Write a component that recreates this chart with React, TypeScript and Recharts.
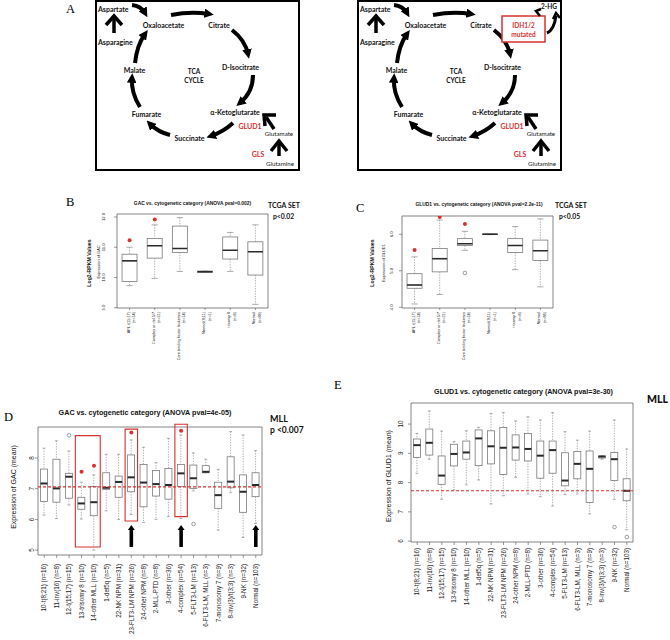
import React from 'react';
import { ComposedChart, Bar, Scatter, XAxis, YAxis, ReferenceLine, ReferenceArea } from 'recharts';

// TCGA set, panels B and C
const tcgaCats = ['APL t(15;17)', 'Complex or del 5/7', 'Core binding factor leukemia', 'Normal(9;11)', 'trisomy 8', 'Normal'];
const tcgaN = ['(n=14)', '(n=21)', '(n=14)', '(n=1)', '(n=8)', '(n=88)'];

const gacMin = [9.73, 9.97, 10.2, 10.17, 10.2, 9.11];
const gacQ1 = [9.87, 10.64, 10.83, 10.17, 10.61, 10.08];
const gacMed = [10.55, 11.05, 10.96, 10.19, 10.9, 10.85];
const gacQ3 = [10.77, 11.29, 11.7, 10.21, 11.34, 11.18];
const gacMax = [11.0, 11.74, 11.98, 10.21, 11.49, 11.74];
const gacStar = [11.23, 11.92, null, null, null, null];
const gacTicks = [9, 9.5, 10, 10.5, 11, 11.5, 12];

const gludMin = [4.09, 4.35, 5.56, 5.99, 5.03, 4.56];
const gludQ1 = [4.52, 4.97, 5.69, 5.99, 5.5, 5.28];
const gludMed = [4.61, 5.33, 5.74, 6.0, 5.69, 5.55];
const gludQ3 = [4.92, 5.61, 5.88, 6.01, 5.88, 5.84];
const gludMax = [5.38, 6.39, 6.08, 6.01, 6.21, 6.42];
const gludStar = [5.57, 6.47, 6.28, null, null, null];
const gludOut = [null, null, 4.94, null, null, null];
const gludTicks = [4, 4.5, 5, 5.5, 6];

// MLL set, panels D and E
const mllCats = [
  '10-t(8;21) (n=16)', '11-inv(16) (n=8)', '12-t(15;17) (n=15)', '13-trisomy 8 (n=10)', '14-other MLL (n=10)',
  '1-del5q (n=5)', '22-NK NPM (n=31)', '23-FLT3-LM NPM (n=26)', '24-other NPM (n=8)', '2-MLL-PTD (n=8)',
  '3-other (n=36)', '4-complex (n=54)', '5-FLT3-LM (n=13)', '6-FLT3-LM, MLL (n=3)', '7-monosomy 7 (n=9)',
  '8-inv(3)/t(3;3) (n=3)', '9-NK (n=32)', 'Normal (n=103)',
];

const gacMllMin = [6.14, 6.03, 6.47, 6.01, 5.0, 6.28, 6.0, 6.16, 5.9, 6.0, 6.09, 6.03, 6.93, 7.52, 5.65, 6.87, 5.41, 5.87];
const gacMllQ1 = [6.58, 6.56, 6.69, 6.33, 6.12, 6.98, 6.72, 6.9, 6.41, 6.76, 6.66, 7.07, 7.01, 7.52, 6.36, 7.03, 6.23, 6.74];
const gacMllMed = [7.17, 7.01, 7.39, 6.52, 6.56, 7.03, 7.22, 7.37, 7.2, 7.15, 7.12, 7.5, 7.34, 7.55, 6.79, 7.23, 6.9, 7.12];
const gacMllQ3 = [7.64, 7.96, 7.5, 6.72, 7.07, 7.52, 7.41, 8.1, 7.79, 7.59, 7.66, 7.79, 7.77, 7.75, 7.21, 8.04, 7.45, 7.52];
const gacMllMax = [8.32, 8.56, 8.23, 7.21, 7.45, 8.12, 8.12, 8.59, 8.35, 7.85, 8.64, 8.75, 8.17, 7.96, 7.63, 8.86, 8.75, 8.24];
const gacMllStar = [null, null, null, 7.55, 7.75, null, null, 8.83, null, null, null, 8.89, null, null, null, null, null, null];
const gacMllOut = [null, null, 8.74, null, null, null, null, null, null, null, null, null, 5.85, null, null, null, null, null];
const gacMllTicks = [5, 6, 7, 8];
const gacMllCutoff = 7.06;
// highlighted groups: first category, last category, low, high
const gacMllBoxes = [
  [3, 4, 5.1, 8.73],
  [7, 7, 5.95, 8.94],
  [11, 11, 6.09, 9.1],
];
const gacMllArrows = [7, 11, 17];

const gludMllMin = [8.32, 8.8, 7.43, 7.75, 7.92, 8.09, 7.27, 7.55, 8.18, 7.61, 7.52, 7.2, 7.6, 7.61, 6.93, 8.8, 7.43, 6.39];
const gludMllQ1 = [8.86, 8.94, 7.94, 8.57, 8.8, 8.58, 8.64, 8.28, 8.77, 8.74, 8.15, 8.32, 7.89, 8.13, 7.32, 8.84, 8.07, 7.38];
const gludMllMed = [9.28, 9.36, 8.24, 8.98, 9.03, 9.51, 9.24, 9.19, 9.2, 9.15, 8.92, 9.11, 8.07, 8.64, 8.47, 8.89, 8.8, 7.72];
const gludMllQ3 = [9.49, 9.83, 8.91, 9.31, 9.42, 9.8, 9.77, 9.88, 9.63, 9.68, 9.42, 9.42, 9.02, 9.06, 9.08, 8.91, 9.03, 8.13];
const gludMllMax = [9.68, 10.45, 9.76, 9.4, 9.77, 9.89, 10.36, 10.39, 10.11, 10.25, 10.14, 10.39, 9.74, 9.45, 9.76, 8.91, 10.14, 9.15];
const gludMllOut = [null, null, null, null, null, null, null, null, null, null, null, null, null, null, null, null, 6.48, 6.14];
const gludMllTicks = [6, 7, 8, 9, 10];
const gludMllCutoff = 7.72;

const rows = (cats: string[], mn: number[], q1: number[], md: number[], q3: number[], mx: number[], star?: (number | null)[], out?: (number | null)[]) =>
  cats.map((name, i) => ({
    name, min: mn[i], q1: q1[i], med: md[i], q3: q3[i], max: mx[i],
    star: star ? star[i] : null, out: out ? out[i] : null,
  }));

const gacData = rows(tcgaCats, gacMin, gacQ1, gacMed, gacQ3, gacMax, gacStar);
const gludData = rows(tcgaCats, gludMin, gludQ1, gludMed, gludQ3, gludMax, gludStar, gludOut);
const gacMllData = rows(mllCats, gacMllMin, gacMllQ1, gacMllMed, gacMllQ3, gacMllMax, gacMllStar, gacMllOut);
const gludMllData = rows(mllCats, gludMllMin, gludMllQ1, gludMllMed, gludMllQ3, gludMllMax, undefined, gludMllOut);

const RFONT = '"Liberation Sans", Arial, sans-serif';
const CFONT = 'Lato, "Open Sans", sans-serif';
const RED = '#d8302f';

const makeBox = (medW: number) => (props: any) => {
  const { x, y, width, height, payload } = props;
  if (x == null || !payload) return <g />;
  const hi = payload.max, lo = payload.min;
  const top = Math.min(y, y + height), bot = Math.max(y, y + height);
  const py = (v: number) => (hi === lo ? top : top + ((bot - top) * (hi - v)) / (hi - lo));
  const cx = x + width / 2;
  const cw = width * 0.21;
  const wh = { stroke: '#8a8a8a', strokeWidth: 0.7 };
  return (
    <g>
      <line x1={cx} x2={cx} y1={py(hi)} y2={py(payload.q3)} {...wh} strokeDasharray="1.3 1.3" />
      <line x1={cx} x2={cx} y1={py(payload.q1)} y2={py(lo)} {...wh} strokeDasharray="1.3 1.3" />
      <line x1={cx - cw} x2={cx + cw} y1={py(hi)} y2={py(hi)} {...wh} />
      <line x1={cx - cw} x2={cx + cw} y1={py(lo)} y2={py(lo)} {...wh} />
      <rect x={x} y={py(payload.q3)} width={width} height={Math.max(py(payload.q1) - py(payload.q3), 0)} fill="#fff" stroke="#7a7a7a" strokeWidth={0.8} />
      <line x1={x} x2={x + width} y1={py(payload.med)} y2={py(payload.med)} stroke="#2a2a2a" strokeWidth={medW} />
    </g>
  );
};

const StarShape = (props: any) =>
  props.payload?.star == null ? <g /> : <circle cx={props.cx} cy={props.cy} r={2} fill={RED} />;
const OutShape = (props: any) =>
  props.payload?.out == null ? <g /> : <circle cx={props.cx} cy={props.cy} r={1.8} fill="none" stroke="#777" strokeWidth={0.7} />;

const UpArrow = (p: any) => {
  const xb = p.x1;
  const yBot = Math.max(p.y1, p.y2), yTop = Math.min(p.y1, p.y2);
  return (
    <g>
      <line x1={xb} x2={xb} y1={yBot} y2={yTop + 4} stroke="#000" strokeWidth={3.6} />
      <polygon points={`${xb - 3.5},${yTop + 5} ${xb},${yTop} ${xb + 3.5},${yTop + 5}`} fill="#000" />
    </g>
  );
};

const rotYTick = (fs: number, fmt: (v: number) => string) => (props: any) => {
  const { x, y, payload } = props;
  return (
    <text transform={`translate(${x},${y}) rotate(-90)`} textAnchor="middle" fontSize={fs} fill="#222" fontFamily={RFONT}>
      {fmt(payload.value)}
    </text>
  );
};

const TcgaTick = (props: any) => {
  const { x, y, payload } = props;
  const i = tcgaCats.indexOf(payload.value);
  return (
    <g fontFamily={RFONT} fontSize={3.8} fill="#222">
      <text transform={`translate(${x},${y}) rotate(-90)`} textAnchor="end">{payload.value}</text>
      <text transform={`translate(${x + 5.5},${y}) rotate(-90)`} textAnchor="end">{tcgaN[i]}</text>
    </g>
  );
};

const MllTick = (props: any) => {
  const { x, y, payload } = props;
  return (
    <text transform={`translate(${x + 2.2},${y}) rotate(-90)`} textAnchor="end" fontSize={6.3} fill="#222" fontFamily={RFONT}>
      {payload.value}
    </text>
  );
};

type BoxProps = {
  data: any[]; w: number; h: number; margin: any; domain: [number, number]; ticks: number[];
  yWidth: number; xHeight: number; xTick: any; yTick: any; medW: number;
  xTickSize: number; xTickMargin: number; yTickSize: number; yTickMargin: number; children?: React.ReactNode;
};

const BoxChart = (p: BoxProps) => (
  <ComposedChart width={p.w} height={p.h} data={p.data} margin={p.margin} barCategoryGap="20%">
    <XAxis dataKey="name" type="category" interval={0} height={p.xHeight} tick={p.xTick} axisLine={false}
      tickLine={{ stroke: '#555', strokeWidth: 0.6 }} tickSize={p.xTickSize} tickMargin={p.xTickMargin} />
    <YAxis type="number" domain={p.domain} allowDataOverflow ticks={p.ticks} width={p.yWidth} tick={p.yTick} axisLine={false}
      tickLine={{ stroke: '#555', strokeWidth: 0.6 }} tickSize={p.yTickSize} tickMargin={p.yTickMargin} />
    <ReferenceArea y1={p.domain[0]} y2={p.domain[1]} fill="none" stroke="#666" strokeWidth={0.8} ifOverflow="visible" />
    <Bar dataKey={(d: any) => [d.min, d.max]} shape={makeBox(p.medW)} isAnimationActive={false} />
    <Scatter dataKey="out" shape={OutShape} isAnimationActive={false} />
    <Scatter dataKey="star" shape={StarShape} isAnimationActive={false} />
    {p.children}
  </ComposedChart>
);

const Tca = ({ ox, mutated }: { ox: number; mutated: boolean }) => {
  const b = { fontFamily: CFONT, fontWeight: 700, fontSize: 7, fill: '#111' };
  const cyc = { fill: 'none', stroke: '#000', strokeWidth: 4, markerEnd: 'url(#ah)' };
  const thick = { fill: 'none', stroke: '#000', strokeWidth: 3.5 };
  return (
    <g transform={`translate(${ox},0)`}>
      <rect x={1} y={1} width={203} height={169} fill="#fff" stroke="#000" strokeWidth={2} />
      <text x={3} y={11.5} {...b}>Aspartate</text>
      <text x={68.5} y={27.5} textAnchor="middle" {...b}>Oxaloacetate</text>
      <text x={124} y={27.5} textAnchor="middle" {...b}>Citrate</text>
      <text x={145.5} y={69.5} textAnchor="middle" {...b}>D-Isocitrate</text>
      <text x={140} y={114.5} textAnchor="middle" {...b}>α-Ketoglutarate</text>
      <text x={94.5} y={140.5} textAnchor="middle" {...b}>Succinate</text>
      <text x={51.5} y={116.5} textAnchor="middle" {...b}>Fumarate</text>
      <text x={39.5} y={72.5} textAnchor="middle" {...b}>Malate</text>
      <text x={3} y={44.5} {...b}>Asparagine</text>
      <text x={99} y={74} textAnchor="middle" {...b} fontSize={6.5}>TCA</text>
      <text x={99} y={83} textAnchor="middle" {...b} fontSize={6.5}>CYCLE</text>
      <text x={155} y={128.5} textAnchor="middle" {...b} fill={RED}>GLUD1</text>
      <text x={184} y={136} textAnchor="middle" {...b} fontWeight={400} fontSize={6.2}>Glutamate</text>
      <text x={163} y={156.5} textAnchor="middle" {...b} fill={RED}>GLS</text>
      <text x={185} y={165.5} textAnchor="middle" {...b} fontWeight={400} fontSize={6.2}>Glutamine</text>

      <path d="M76,15 Q96,11 114,14" {...cyc} />
      <path d="M137,30 Q150,40 153,54" {...cyc} />
      <path d="M158,75 Q158,92 145,103" {...cyc} />
      <path d="M138,123 Q128,132 116,136" {...cyc} />
      <path d="M75,135 Q63,132 55,124" {...cyc} />
      <path d="M45,107 Q36,93 37,78" {...cyc} />
      <path d="M40,63 Q42,45 50,34" {...cyc} />
      <path d="M37,5 Q46,6 50,13" {...cyc} />

      <path d="M19,33 L19,17" {...thick} />
      <path d="M11,25 L19,16 L27,25" {...thick} />
      <path d="M179,129 L171,117" {...thick} />
      <path d="M170,126 L169,115 L181,115" {...thick} />
      <path d="M184,156 L184,142" {...thick} />
      <path d="M176,151 L184,141 L192,151" {...thick} />

      {mutated && (
        <g>
          <rect x={145} y={16} width={43} height={26} fill="#fff" stroke={RED} strokeWidth={1.5} />
          <text x={166.5} y={27.5} textAnchor="middle" {...b} fill={RED} fontSize={6.5}>IDH1/2</text>
          <text x={166.5} y={36.5} textAnchor="middle" {...b} fill={RED} fontSize={6.5}>mutated</text>
          <text x={192} y={9} textAnchor="middle" {...b} fontSize={6.5}>2-HG</text>
          <path d="M190,33 Q197,30 199,16" {...thick} strokeWidth={3} />
          <path d="M196,19 L199,13 L203,18" {...thick} strokeWidth={2.5} />
          <path d="M183,16 L179,11 L184,9" {...thick} strokeWidth={2.5} />
        </g>
      )}
    </g>
  );
};

export default function App() {
  const t = (x: number, y: number, s: string, o: any = {}) => (
    <text x={x} y={y} fontFamily={RFONT} fill="#111" {...o}>{s}</text>
  );
  const rot = (x: number, y: number, s: string, o: any = {}) => (
    <text transform={`translate(${x},${y}) rotate(-90)`} textAnchor="middle" fontFamily={RFONT} fill="#111" {...o}>{s}</text>
  );
  const serif = { fontFamily: '"Liberation Serif", "Times New Roman", serif', fontSize: 12.5 };
  const cal = { fontFamily: CFONT, fontWeight: 700 };

  return (
    <div style={{ position: 'absolute', left: 0, top: 0, width: 670, height: 640, background: '#fff', overflow: 'hidden' }}>
      <div style={{ position: 'absolute', left: 60, top: 195 }}>
        <BoxChart data={gacData} w={215} h={190} margin={{ top: 19, right: 7, bottom: 0, left: 32 }} domain={[8.99, 12.1]}
          ticks={gacTicks} yWidth={25} xHeight={77} xTick={TcgaTick} yTick={rotYTick(4.2, (v) => v.toFixed(1))} medW={1.6}
          xTickSize={2} xTickMargin={2} yTickSize={3} yTickMargin={9} />
      </div>
      <div style={{ position: 'absolute', left: 345, top: 195 }}>
        <BoxChart data={gludData} w={215} h={190} margin={{ top: 21, right: 7, bottom: 0, left: 32 }} domain={[3.98, 6.5]}
          ticks={gludTicks} yWidth={25} xHeight={77} xTick={TcgaTick} yTick={rotYTick(4.2, (v) => v.toFixed(1))} medW={1.6}
          xTickSize={2} xTickMargin={2} yTickSize={3} yTickMargin={6} />
      </div>
      <div style={{ position: 'absolute', left: 0, top: 400 }}>
        <BoxChart data={gacMllData} w={270} h={240} margin={{ top: 27, right: 8, bottom: 0, left: 18 }} domain={[4.84, 9.01]}
          ticks={gacMllTicks} yWidth={20} xHeight={85} xTick={MllTick} yTick={rotYTick(6.3, (v) => String(v))} medW={2}
          xTickSize={3} xTickMargin={6} yTickSize={3} yTickMargin={1.5}>
          <ReferenceLine y={gacMllCutoff} stroke={RED} strokeDasharray="3 2" strokeWidth={1.1} ifOverflow="visible" />
          {gacMllBoxes.map(([a, b2, lo, hi], i) => (
            <ReferenceArea key={i} x1={mllCats[a]} x2={mllCats[b2]} y1={lo} y2={hi} fill="none" stroke={RED} strokeWidth={1.1} ifOverflow="visible" />
          ))}
          {gacMllArrows.map((a) => (
            <ReferenceLine key={a} segment={[{ x: mllCats[a], y: 5.1 }, { x: mllCats[a], y: 5.82 }]} shape={UpArrow} ifOverflow="visible" />
          ))}
        </BoxChart>
      </div>
      <div style={{ position: 'absolute', left: 330, top: 380 }}>
        <BoxChart data={gludMllData} w={310} h={260} margin={{ top: 23, right: 7, bottom: 0, left: 56 }} domain={[5.97, 10.72]}
          ticks={gludMllTicks} yWidth={25} xHeight={98} xTick={MllTick} yTick={rotYTick(6.3, (v) => String(v))} medW={2}
          xTickSize={3} xTickMargin={3} yTickSize={3} yTickMargin={5.5}>
          <ReferenceLine y={gludMllCutoff} stroke={RED} strokeDasharray="3 2" strokeWidth={1.1} ifOverflow="visible" />
        </BoxChart>
      </div>

      <svg width={670} height={640} style={{ position: 'absolute', left: 0, top: 0, pointerEvents: 'none' }}>
        <defs>
          <marker id="ah" viewBox="0 0 10 10" refX={5} refY={5} markerWidth={2.4} markerHeight={2.4} orient="auto">
            <path d="M0,0 L10,5 L0,10 z" fill="#000" />
          </marker>
        </defs>
        <Tca ox={95} mutated={false} />
        <Tca ox={357} mutated={true} />

        <text x={66} y={13} {...serif}>A</text>
        <text x={66} y={206} {...serif}>B</text>
        <text x={356} y={212} {...serif}>C</text>
        <text x={4} y={421} {...serif}>D</text>
        <text x={334} y={389} {...serif}>E</text>

        {t(192.5, 205, 'GAC vs. cytogenetic category (ANOVA pval=0.002)', { fontSize: 4.9, fontWeight: 700, textAnchor: 'middle' })}
        {t(268, 208, 'TCGA SET', { ...cal, fontSize: 7 })}
        {t(273, 218.5, 'p<0.02', { ...cal, fontSize: 6.8 })}
        {rot(90.5, 263, 'Log2-RPKM Values', { fontSize: 5.2, fontWeight: 700 })}
        {rot(99.5, 262, 'Expression of GAC', { fontSize: 3.9 })}

        {t(479, 206, 'GLUD1 vs. cytogenetic category (ANOVA pval=2.2e-11)', { fontSize: 4.9, fontWeight: 700, textAnchor: 'middle' })}
        {t(555, 208, 'TCGA SET', { ...cal, fontSize: 7 })}
        {t(559, 218.5, 'p<0.05', { ...cal, fontSize: 6.8 })}
        {rot(373.5, 263, 'Log2-RPKM Values', { fontSize: 5.2, fontWeight: 700 })}
        {rot(385, 263, 'Expression of GLUD1', { fontSize: 3.9 })}

        {t(145, 415, 'GAC vs. cytogenetic category (ANOVA pval=4e-05)', { fontSize: 7.2, fontWeight: 700, textAnchor: 'middle' })}
        {t(270, 422, 'MLL', { ...cal, fontSize: 9 })}
        {t(270, 432.5, 'p <0.007', { ...cal, fontSize: 8.5 })}
        {rot(15.5, 487, 'Expression of GAC (mean)', { fontSize: 7 })}

        {t(523.5, 393.5, 'GLUD1 vs. cytogenetic category (ANOVA pval=3e-30)', { fontSize: 7.1, fontWeight: 700, textAnchor: 'middle' })}
        {t(647, 403, 'MLL', { ...cal, fontSize: 10.5, fontWeight: 900 })}
        {rot(390.5, 476, 'Expression of GLUD1 (mean)', { fontSize: 7 })}
      </svg>
    </div>
  );
}
